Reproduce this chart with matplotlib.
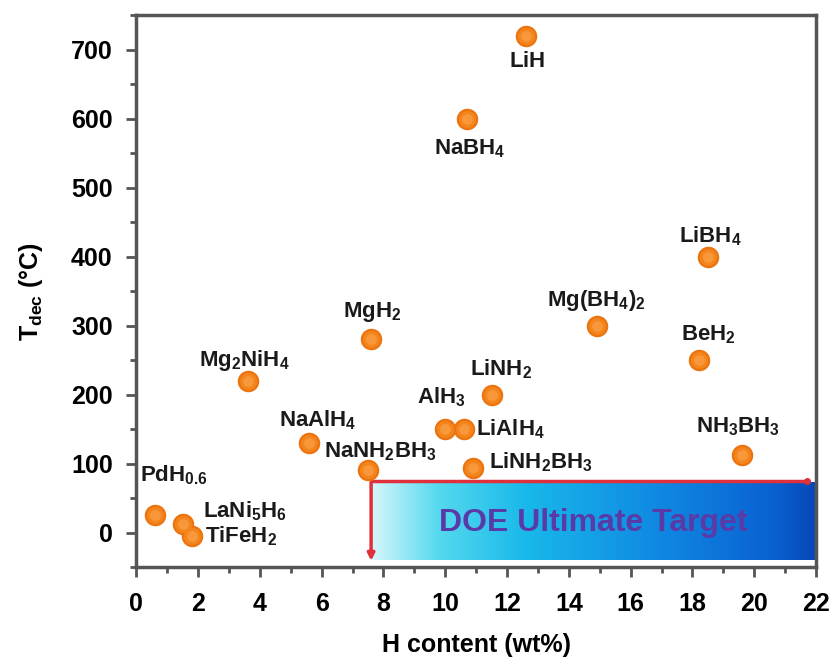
import matplotlib.pyplot as plt
import numpy as np
from matplotlib.colors import LinearSegmentedColormap
from matplotlib.ticker import MultipleLocator

plt.rcParams['font.family'] = ['Liberation Sans', 'DejaVu Sans']
plt.rcParams['font.weight'] = 'bold'
plt.rcParams['mathtext.fontset'] = 'custom'
plt.rcParams['mathtext.rm'] = 'Liberation Sans:bold'
plt.rcParams['mathtext.bf'] = 'Liberation Sans:bold'
plt.rcParams['mathtext.it'] = 'Liberation Sans:bold'

# 数据: 名称, 氢含量 (wt%), 分解温度 (°C)
names = [r'$\mathrm{LiH}$', r'$\mathrm{NaBH_4}$', r'$\mathrm{LiBH_4}$', r'$\mathrm{Mg(BH_4)_2}$',
         r'$\mathrm{BeH_2}$', r'$\mathrm{MgH_2}$', r'$\mathrm{Mg_2NiH_4}$', r'$\mathrm{NaAlH_4}$',
         r'$\mathrm{NaNH_2BH_3}$', r'$\mathrm{PdH_{0.6}}$', r'$\mathrm{LaNi_5H_6}$', r'$\mathrm{TiFeH_2}$',
         r'$\mathrm{AlH_3}$', r'$\mathrm{LiAlH_4}$', r'$\mathrm{LiNH_2}$', r'$\mathrm{LiNH_2BH_3}$',
         r'$\mathrm{NH_3BH_3}$']
h_content = [12.6, 10.7, 18.5, 14.9, 18.2, 7.6, 3.6, 5.6, 7.5, 0.6, 1.5, 1.8, 10.0, 10.6, 11.5, 10.9, 19.6]
t_dec = [720, 600, 400, 300, 250, 280, 220, 130, 90, 25, 12, -5, 150, 150, 200, 94, 112]

# 标签相对点的偏移 (像素)
label_offsets = [(2, -26), (3, -30), (2, 20), (0, 25), (10, 25), (1, 27), (-3, 20), (8, 23),
                 (12, 19), (19, 40), (62, 13), (49, 0), (-4, 32), (47, 0), (9, 25), (68, 6),
                 (-4, 29)]

# DOE 目标区域
doe_x = [7.6, 22]
doe_y = [-40, 73]

fig, ax = plt.subplots(figsize=(8.31, 6.64), dpi=100)
fig.subplots_adjust(left=0.164, right=0.982, top=0.977, bottom=0.146)

# 渐变矩形
cmap = LinearSegmentedColormap.from_list('doe', [(0.0, '#d6f7fb'), (0.15, '#55d9ef'), (0.35, '#18b8ea'),
                                                  (0.65, '#1088e2'), (0.9, '#0a62d2'), (1.0, '#0848b8')])
grad = np.linspace(0, 1, 256).reshape(1, -1)
ax.imshow(grad, cmap=cmap, extent=[doe_x[0], doe_x[1], doe_y[0], doe_y[1]], aspect='auto', zorder=1)
ax.text((doe_x[0] + doe_x[1]) / 2, 14, 'DOE Ultimate Target', color='#5a3aa6', fontsize=23,
        fontweight='bold', ha='center', va='center', zorder=2)

# 红色箭头
ax.plot([doe_x[0], 21.7], [75, 75], color='#e0303c', lw=2.5, zorder=3)
ax.annotate('', xy=(doe_x[0], -45), xytext=(doe_x[0], 76),
            arrowprops=dict(arrowstyle='-|>', color='#e0303c', lw=2.5, mutation_scale=10), zorder=3)
ax.plot([21.7], [75], 'o', color='#e0303c', ms=4, zorder=3)

# 橙色球
ax.scatter(h_content, t_dec, s=240, color='#ec7410', linewidths=0, zorder=4)
ax.scatter(h_content, t_dec, s=150, color='#f4841c', linewidths=0, zorder=5)
ax.scatter(h_content, t_dec, s=60, color='#f9983a', linewidths=0, zorder=6)

for n, x, y, off in zip(names, h_content, t_dec, label_offsets):
    ax.annotate(n, (x, y), xytext=off, textcoords='offset pixels', ha='center', va='center',
                fontsize=16, color='#1a1a1a', zorder=7)

ax.set_xlim(0, 22)
ax.set_ylim(-50, 750)
ax.xaxis.set_major_locator(MultipleLocator(2))
ax.xaxis.set_minor_locator(MultipleLocator(1))
ax.yaxis.set_major_locator(MultipleLocator(100))
ax.yaxis.set_minor_locator(MultipleLocator(50))
ax.set_yticks(np.arange(0, 701, 100))
ax.tick_params(which='major', length=7, width=2, color='#555555', labelsize=18)
ax.tick_params(axis='x', which='major', pad=11)
ax.tick_params(axis='y', which='major', pad=10)
ax.tick_params(which='minor', length=4, width=2, color='#555555')
for s in ax.spines.values():
    s.set_linewidth(2.5)
    s.set_color('#555555')

ax.set_xlabel('H content (wt%)', fontsize=18, fontweight='bold', labelpad=12)
ax.set_ylabel(r'$\mathrm{T_{dec}}$ (°C)', fontsize=18, fontweight='bold', labelpad=19)

plt.savefig('out.png', dpi=100)
